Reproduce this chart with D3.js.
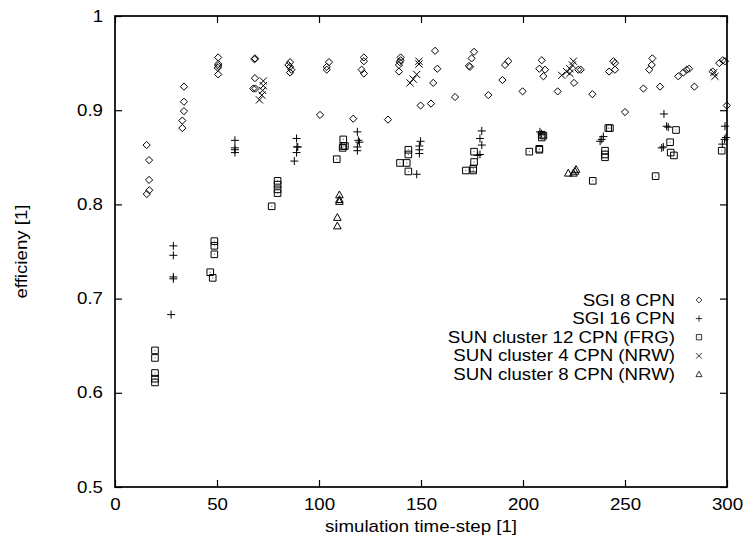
<!DOCTYPE html>
<meta charset="utf-8">
<script src="https://d3js.org/d3.v7.min.js"></script>
<style type="text/css">
body { margin: 0; background: #fff; }
svg text { font-family: "Liberation Sans", Arial, sans-serif; font-size: 16.1px; fill: #000; }
.mark { fill: none; stroke: #000; stroke-width: 1; }
.frame { fill: none; stroke: #000; stroke-width: 1.7; }
.tick line { stroke: #000; stroke-width: 1.2; }
</style>
<body>
<div id="chart"></div>
<script>

// time step, efficiency
var sgi8 = [
  [15.5,0.863],[16.7,0.847],[16.7,0.826],[16.8,0.815],[15.6,0.811],
  [33.8,0.925],[33.8,0.909],[33.8,0.899],[33.0,0.889],[33.0,0.881],
  [50.6,0.956],[50.6,0.949],[50.6,0.947],[50.4,0.945],[50.6,0.938],
  [68.6,0.955],[68.4,0.954],[68.6,0.934],[67.8,0.923],[68.8,0.923],
  [85.8,0.951],[85.0,0.948],[85.8,0.946],[86.5,0.943],[85.8,0.940],
  [100.5,0.895],[104.9,0.951],[103.8,0.946],[103.8,0.943],
  [122.0,0.956],[122.0,0.952],[120.9,0.943],[122.0,0.939],[116.8,0.891],
  [140.0,0.956],[140.0,0.953],[139.6,0.951],[139.2,0.948],[139.2,0.941],[133.8,0.890],
  [156.9,0.963],[158.0,0.944],[156.0,0.929],[154.9,0.907],[149.8,0.905],[166.7,0.914],
  [176.0,0.962],[174.8,0.955],[173.5,0.947],[174.0,0.946],[183.0,0.916],
  [189.9,0.932],[191.2,0.948],[192.8,0.952],[199.8,0.920],
  [209.2,0.953],[208.0,0.944],[210.8,0.943],[210.0,0.936],[217.0,0.920],
  [225.0,0.929],[227.1,0.943],[228.3,0.943],[234.0,0.917],
  [244.3,0.952],[245.1,0.950],[242.2,0.941],[245.1,0.943],[250.0,0.898],
  [263.4,0.955],[263.1,0.948],[261.9,0.943],[259.0,0.923],[267.2,0.925],
  [276.1,0.936],[278.6,0.940],[280.2,0.943],[281.4,0.944],[284.0,0.925],
  [293.0,0.941],[296.2,0.950],[297.9,0.953],[299.0,0.952],[299.9,0.905]
];
var sgi16 = [
  [28.6,0.756],[28.6,0.746],[28.6,0.723],[28.6,0.721],[27.5,0.683],
  [58.8,0.868],[58.8,0.860],[58.8,0.858],[58.8,0.855],
  [89.0,0.870],[89.2,0.861],[89.6,0.861],[89.0,0.855],[87.9,0.846],
  [118.8,0.877],[119.3,0.868],[119.8,0.866],[118.8,0.861],[118.8,0.857],
  [149.8,0.867],[149.2,0.862],[149.2,0.858],[149.2,0.854],[147.9,0.832],
  [179.8,0.878],[178.9,0.870],[179.8,0.863],[178.9,0.853],[177.8,0.852],
  [208.3,0.877],[209.1,0.875],
  [239.4,0.872],[238.6,0.869],[237.8,0.867],
  [269.1,0.896],[270.4,0.883],[271.2,0.882],[268.8,0.861],[268.0,0.860],
  [299.0,0.883],[299.5,0.871],[298.8,0.869],[297.7,0.864]
];
var sun12 = [
  [19.6,0.645],[19.6,0.637],[19.6,0.621],[19.6,0.615],[19.6,0.611],
  [48.7,0.761],[48.7,0.756],[48.7,0.747],[46.7,0.728],[47.9,0.722],
  [79.7,0.825],[79.7,0.821],[79.7,0.816],[79.7,0.812],[76.8,0.798],
  [111.9,0.869],[111.9,0.862],[112.7,0.862],[111.6,0.860],[108.7,0.848],
  [143.8,0.858],[143.8,0.853],[143.0,0.844],[139.7,0.844],[143.8,0.835],
  [176.0,0.856],[176.0,0.845],[175.6,0.838],[172.0,0.836],[175.6,0.836],
  [209.2,0.874],[210.0,0.873],[209.2,0.871],[208.0,0.859],[208.0,0.858],[203.1,0.856],
  [242.6,0.881],[241.8,0.881],[240.2,0.857],[240.2,0.853],[240.2,0.850],[234.2,0.825],
  [265.0,0.830],[275.0,0.879],[272.1,0.866],[272.4,0.855],[274.0,0.852],[297.4,0.857]
];
var sun4 = [
  [72.7,0.931],[72.7,0.926],[72.4,0.921],[72.0,0.916],[70.8,0.911],
  [149.0,0.952],[149.0,0.949],[147.9,0.938],[146.2,0.933],[144.6,0.929],
  [219.0,0.937],[221.4,0.941],[223.0,0.944],[224.7,0.952],[224.2,0.948],[223.0,0.939],
  [294.1,0.936],[293.5,0.940]
];
var sun8 = [
  [110.0,0.810],[110.0,0.805],[110.0,0.803],[109.0,0.786],[109.0,0.777],
  [222.2,0.833],[224.7,0.833],[226.0,0.837],[225.5,0.835]
];

var seriesNames = ["SGI 8 CPN", "SGI 16 CPN", "SUN cluster 12 CPN (FRG)", "SUN cluster 4 CPN (NRW)", "SUN cluster 8 CPN (NRW)"];
var seriesData = [sgi8, sgi16, sun12, sun4, sun8];
var seriesSymbols = ["diamond", "plus", "square", "cross", "triangle"];

var xTicks = [0, 50, 100, 150, 200, 250, 300];
var yTicks = [0.5, 0.6, 0.7, 0.8, 0.9, 1];

var width = 746, height = 543;
var margin = {top: 16, right: 19, bottom: 56, left: 115};

var svg = d3.select("#chart").append("svg")
  .attr("width", width)
  .attr("height", height);

var x = d3.scaleLinear().domain([0, 300]).range([margin.left, width - margin.right]);
var y = d3.scaleLinear().domain([0.5, 1]).range([height - margin.bottom, margin.top]);

// axes, ticks pointing inward like gnuplot ---------------------------
var tl = 7;
svg.append("g")
  .attr("transform", "translate(0," + y(0.5) + ")")
  .call(d3.axisBottom(x).tickValues(xTicks).tickSizeInner(-tl).tickSizeOuter(0).tickPadding(12).tickFormat(d3.format("d")))
  .call(function(g) { g.select(".domain").remove(); });
svg.append("g")
  .attr("transform", "translate(0," + y(1) + ")")
  .call(d3.axisTop(x).tickValues(xTicks).tickSizeInner(-tl).tickSizeOuter(0).tickFormat(""))
  .call(function(g) { g.select(".domain").remove(); });
svg.append("g")
  .attr("transform", "translate(" + x(0) + ",0)")
  .call(d3.axisLeft(y).tickValues(yTicks).tickSizeInner(-tl).tickSizeOuter(0).tickPadding(12).tickFormat(d3.format("")))
  .call(function(g) { g.select(".domain").remove(); });
svg.append("g")
  .attr("transform", "translate(" + x(300) + ",0)")
  .call(d3.axisRight(y).tickValues(yTicks).tickSizeInner(-tl).tickSizeOuter(0).tickFormat(""))
  .call(function(g) { g.select(".domain").remove(); });

svg.selectAll(".tick text").attr("font-size", null).attr("font-family", null);

svg.append("rect").attr("class", "frame")
  .attr("x", x(0)).attr("y", y(1))
  .attr("width", x(300) - x(0)).attr("height", y(0.5) - y(1));

svg.append("text")
  .attr("x", (x(0) + x(300)) / 2).attr("y", 532)
  .attr("text-anchor", "middle")
  .text("simulation time-step [1]");

svg.append("text")
  .attr("transform", "translate(27," + y(0.75) + ") rotate(-90)")
  .attr("text-anchor", "middle")
  .text("efficieny [1]");

// point symbols -----------------------------------------------------
function symbolPath(s) {
  var r = 3.6;
  if (s == "diamond") return "M0,-" + r + "L" + r + ",0L0," + r + "L-" + r + ",0Z";
  if (s == "plus") return "M-4,0H4M0,-4V4";
  if (s == "square") return "M-3.3,-3.3H3.3V3.3H-3.3Z";
  if (s == "cross") return "M-3.6,-3.6L3.6,3.6M-3.6,3.6L3.6,-3.6";
  return "M0,-4L3.8,2.8H-3.8Z";
}

function drawMark(g, s) {
  g.append("path").attr("class", "mark").attr("d", symbolPath(s));
  if (s == "square") g.append("rect").attr("x", -0.5).attr("y", -0.5).attr("width", 1).attr("height", 1).attr("fill", "#555");
}

seriesData.forEach(function(data, i) {
  var grp = svg.append("g");
  grp.selectAll("g").data(data).enter().append("g")
    .attr("transform", function(d) { return "translate(" + x(d[0]) + "," + y(d[1]) + ")"; })
    .each(function() { drawMark(d3.select(this), seriesSymbols[i]); });
});

// legend --------------------------------------------------------------
var legend = svg.append("g");
seriesNames.forEach(function(name, i) {
  var ly = 300 + i * 18.6;
  legend.append("text")
    .attr("x", 675).attr("y", ly).attr("dy", "0.35em")
    .attr("text-anchor", "end")
    .text(name);
  var m = legend.append("g").attr("transform", "translate(699," + ly + ") scale(0.8)");
  drawMark(m, seriesSymbols[i]);
});

// the original font is a bit wider than Liberation Sans
svg.selectAll("text").each(function() {
  var w = this.getComputedTextLength();
  if (w > 0) d3.select(this).attr("textLength", w * 1.16).attr("lengthAdjust", "spacingAndGlyphs");
});

</script>
</body>
